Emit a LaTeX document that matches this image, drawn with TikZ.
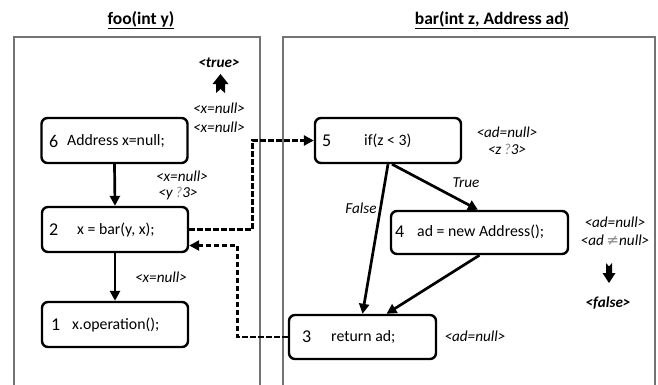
\documentclass[tikz,border=0pt]{standalone}
\usepackage{fontspec}
\setmainfont{Carlito}
\newfontfamily\symfont{DejaVu Sans}
\usetikzlibrary{arrows.meta}
\begin{document}
\begin{tikzpicture}[x=1pt,y=-1pt,
  box/.style={draw, line width=2.4pt, rounded corners=6pt, minimum width=#1, minimum height=45pt, inner sep=0pt},
  box/.default=146pt,
  txt/.style={anchor=west, inner sep=0pt, font=\fontsize{15.8}{18}\selectfont},
  num/.style={anchor=west, inner sep=0pt, font=\fontsize{18}{20}\selectfont},
  lab/.style={inner sep=0pt, font=\fontsize{15.2}{18}\selectfont\itshape},
  ttl/.style={inner sep=0pt, font=\fontsize{17.5}{20}\selectfont\bfseries},
  panel/.style={draw=black!55, line width=1.2pt},
  flow/.style={line width=2.7pt, -{Triangle[length=10pt,width=10pt]}},
  dflow/.style={line width=2.7pt, dash pattern=on 5.5pt off 2.5pt, -{Triangle[length=10pt,width=10pt]}}]
\useasboundingbox (0,0) rectangle (658,384);
% titles
\node[ttl] (tfoo) at (141,20) {\underline{foo(int y)}};
\node[ttl] (tbar) at (492,20) {\underline{bar(int z, Address ad)}};
% panels
\draw[panel] (14,386) -- (14,37) -- (260,37) -- (260,386);
\draw[panel] (283,386) -- (283,37) -- (655,37) -- (655,386);
% boxes
\node[box] (n6) at (114.5,140.5) {};
\node[box] (n2) at (115,229.5) {};
\node[box] (n1) at (115,324.5) {};
\node[box] (n5) at (388,140.5) {};
\node[box=177pt, minimum height=43pt] (n4) at (479.5,232.5) {};
\node[box=147pt, minimum height=44pt] (n3) at (362.5,337) {};
% box texts
\node[num] (n6a) at (49,141) {6};
\node[txt] (n6b) at (67,141) {Address x=null;};
\node[num] (n2a) at (49,230) {2};
\node[txt] (n2b) at (77,230) {x = bar(y, x);};
\node[num] (n1a) at (51,325) {1};
\node[txt] (n1b) at (72,325) {x.operation();};
\node[num] (n5a) at (322,141) {5};
\node[txt] (n5b) at (364,141) {if(z < 3)};
\node[num] (n4a) at (395,232) {4};
\node[txt] (n4b) at (417,232) {ad = new Address();};
\node[num] (n3a) at (302,337) {3};
\node[txt] (n3b) at (331,337) {return ad;};
% labels
\node[lab] (ltrue) at (219,63) {\bfseries <true>};
\node[lab] (l1) at (219,108) {<x=null>};
\node[lab] (l2) at (219,127) {<x=null>};
\node[lab] (l3) at (182,176) {<x=null>};
\node[lab] (l4) at (178,194) {<y\,{\color{black!45}?}3>};
\node[lab] (l5) at (161,277) {<x=null>};
\node[lab] (l6) at (507,132) {<ad=null>};
\node[lab] (l7) at (507,149) {<z\,{\color{black!45}?}3>};
\node[lab] (ltr) at (466,183) {True};
\node[lab] (lfa) at (361,208) {False};
\node[lab] (l8) at (615,222) {<ad=null>};
\node[lab] (l9) at (615,240) {<ad\,{\color{black!45}\symfont\upshape ≠}null>};
\node[lab] (lfalse) at (608,303) {\bfseries <false>};
\node[lab] (l10) at (475,336) {<ad=null>};
% block arrows
\fill (220.5,74) -- (228.5,84) -- (225,84) -- (225,93) -- (220.5,89) -- (216,93) -- (216,84) -- (212.5,84) -- cycle;
\fill (606,263) -- (609,266.5) -- (612,263) -- (612,273) -- (615.5,273) -- (609,283) -- (602.5,273) -- (606,273) -- cycle;
% flows
\draw[flow] (n6.south) -- (n2.north);
\draw[flow] (n2.south) -- (n1.north);
\draw[flow] (n5.south) -- (n3.north);
\draw[flow] ([xshift=4pt]n5.south) -- ([xshift=-1.5pt]n4.north);
\draw[flow] (n4.south) -- ([xshift=24pt]n3.north);
\draw[dflow] (n2.east) -- ++(63,0) |- (n5.west);
\draw[dflow] (n3.west) -- ++(-50,0) |- ([yshift=-16pt]n2.east);
\end{tikzpicture}
\end{document}
